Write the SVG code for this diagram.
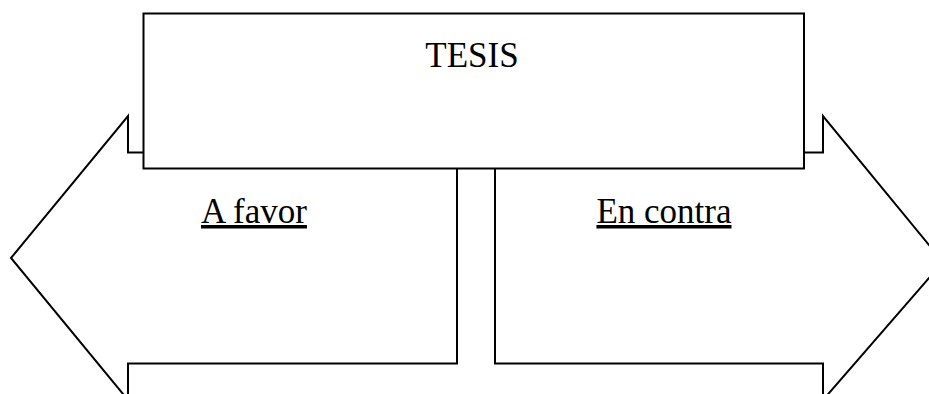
<svg xmlns="http://www.w3.org/2000/svg" width="929" height="394" viewBox="0 0 929 394">
<style>
.s{fill:#fff;stroke:#000;stroke-width:2;stroke-linejoin:miter}
.t{font-family:"Liberation Serif","Times New Roman",serif;font-size:35px;fill:#000}
</style>
<rect width="929" height="394" fill="#fff"/>
<g id="connectors"></g>
<g id="left-arrow">
<polygon class="s" points="11,258 128,116 128,152.5 457,152.5 457,363.5 128,363.5 128,400"/>
</g>
<g id="right-arrow">
<polygon class="s" points="943,262 823,116 823,152.5 495,152.5 495,363.5 823,363.5 823,400"/>
</g>
<g id="tesis">
<rect class="s" x="143.5" y="13.5" width="660.5" height="155"/>
<text class="t" x="472" y="67" text-anchor="middle">TESIS</text>
</g>
<g id="a-favor">
<text class="t" x="254" y="223" text-anchor="middle" text-decoration="underline">A favor</text>
</g>
<g id="en-contra">
<text class="t" x="664" y="223" text-anchor="middle" text-decoration="underline">En contra</text>
</g>
</svg>
